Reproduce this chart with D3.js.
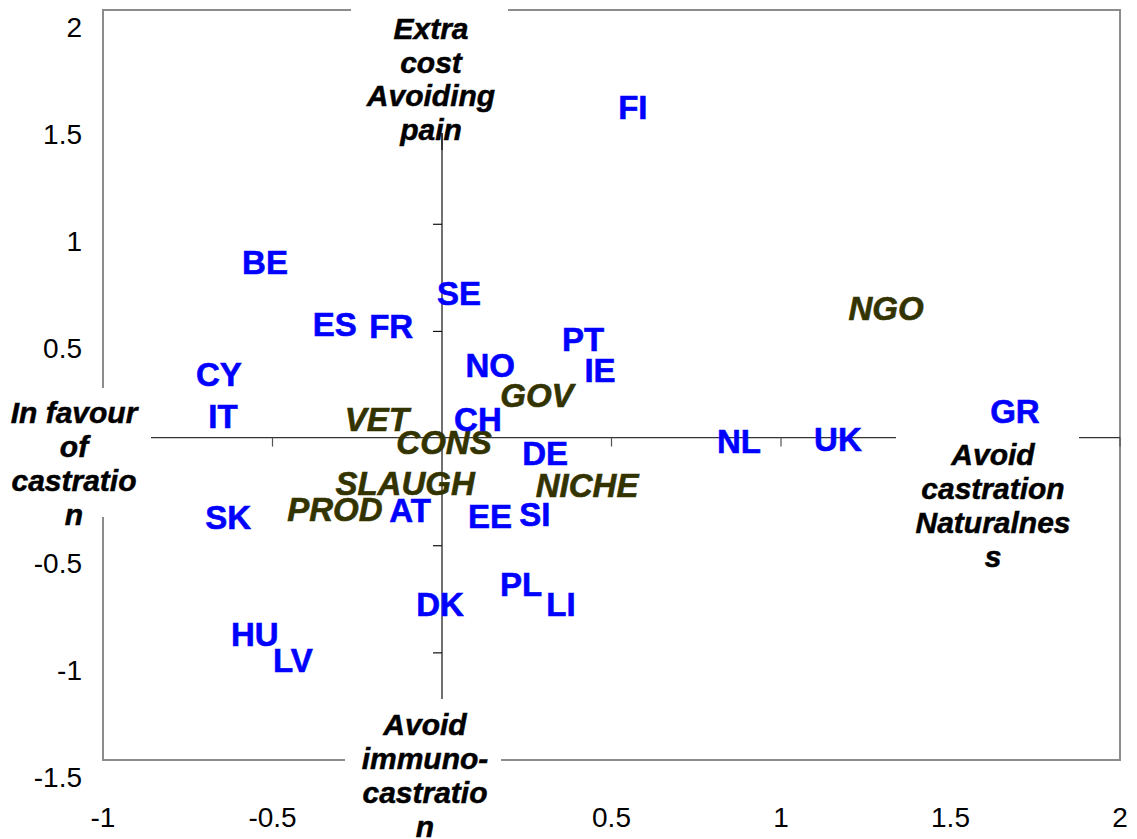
<!DOCTYPE html>
<html><head><meta charset="utf-8">
<script src="https://cdn.jsdelivr.net/npm/d3@7"></script>
<style>
html,body{margin:0;padding:0;background:#fff;}
svg{display:block;font-family:"Liberation Sans",Arial,sans-serif;}
</style></head>
<body>
<svg id="chart" width="1137" height="839"></svg>
<script>
// Countries (blue labels)
const countries = ["FI","BE","SE","ES","FR","PT","NO","IE","CY","GR","IT","CH","NL","UK","DE","SK","AT","EE","SI","PL","LI","DK","HU","LV"];
const countryX  = [0.563,-0.522,0.050,-0.316,-0.150,0.416,0.142,0.466,-0.658,1.690,-0.646,0.106,0.876,1.168,0.304,-0.631,-0.094,0.142,0.274,0.233,0.351,-0.006,-0.552,-0.440];
const countryY  = [1.547,0.824,0.679,0.535,0.526,0.465,0.344,0.320,0.302,0.129,0.105,0.091,-0.011,-0.002,-0.067,-0.366,-0.333,-0.361,-0.352,-0.678,-0.772,-0.772,-0.912,-1.033];
// Stakeholder groups (dark olive italic labels)
const groups = ["NGO","GOV","VET","CONS","SLAUGH","NICHE","PROD"];
const groupX = [1.310,0.280,-0.192,0.006,-0.109,0.428,-0.316];
const groupY = [0.610,0.203,0.091,-0.016,-0.207,-0.217,-0.329];
// Axis ticks
const xTicks = [-1,-0.5,0.5,1,1.5,2];
const yTicks = [2,1.5,1,0.5,-0.5,-1,-1.5];
// Pole labels
const poleTop = ["Extra","cost","Avoiding","pain"];
const poleBottom = ["Avoid","immuno-","castratio","n"];
const poleLeft = ["In favour","of","castratio","n"];
const poleRight = ["Avoid","castration","Naturalnes","s"];

const svg = d3.select("#chart");
const L = 103, R = 1120, T = 10, B = 760;
const x = d3.scaleLinear().domain([-1,2]).range([L,R]);
const y = d3.scaleLinear().domain([-1.5,2]).range([B,T]);

// frame
svg.append("rect").attr("x",L).attr("y",T).attr("width",R-L).attr("height",B-T)
  .attr("fill","none").attr("stroke","#8c8c8c").attr("stroke-width",2);

// central axes
const x0 = x(0), y0 = y(0)-1;
svg.append("line").attr("x1",L).attr("x2",R).attr("y1",y0).attr("y2",y0)
  .attr("stroke","#333").attr("stroke-width",1.2);
svg.append("line").attr("x1",x0).attr("x2",x0).attr("y1",T).attr("y2",B)
  .attr("stroke","#111").attr("stroke-width",1.2);
// ticks on horizontal axis (downwards)
svg.selectAll(".xt").data([-0.5,0.5,1,1.5,2]).enter().append("line")
  .attr("x1",d=>x(d)).attr("x2",d=>x(d)).attr("y1",y0).attr("y2",y0+9)
  .attr("stroke","#555").attr("stroke-width",1.2);
// ticks on vertical axis (leftwards)
svg.selectAll(".yt").data([1.5,1,0.5,-0.5,-1]).enter().append("line")
  .attr("x1",x0-9).attr("x2",x0).attr("y1",d=>y(d)).attr("y2",d=>y(d))
  .attr("stroke","#111").attr("stroke-width",1.2);

// tick labels
svg.selectAll(".xl").data(xTicks).enter().append("text")
  .attr("x",d=>x(d)).attr("y",827).attr("text-anchor","middle")
  .attr("font-size",28).attr("fill","#000").text(d=>d);
svg.selectAll(".yl").data(yTicks).enter().append("text")
  .attr("x",82).attr("y",d=>y(d)+27).attr("text-anchor","end")
  .attr("font-size",28).attr("fill","#000").text(d=>d);

// pole label boxes
function pole(lines, box, cx, firstBase, step){
  svg.append("rect").attr("x",box[0]).attr("y",box[1]).attr("width",box[2]-box[0]).attr("height",box[3]-box[1]).attr("fill","#fff");
  const t = svg.append("text").attr("text-anchor","middle").attr("font-size",30)
    .attr("font-weight","bold").attr("font-style","italic").attr("fill","#000")
    .attr("stroke","#000").attr("stroke-width",0.5);
  lines.forEach((s,i)=>t.append("tspan").attr("x",cx).attr("y",firstBase+i*step).text(s));
}
pole(poleTop,[351,0,508,133],431,39,33.6);
pole(poleBottom,[345,699,501,839],425,735,34);
pole(poleLeft,[0,388,151,517],74,423,34);
pole(poleRight,[896,428,1079,580],993,465,34);
// vertical axis segment showing through "pain"
svg.append("line").attr("x1",x0).attr("x2",x0).attr("y1",133).attr("y2",150)
  .attr("stroke","#111").attr("stroke-width",1.2);

// group labels
svg.selectAll(".g").data(groups).enter().append("text")
  .attr("x",(d,i)=>x(groupX[i])).attr("y",(d,i)=>y(groupY[i]))
  .attr("dy","0.36em").attr("text-anchor","middle").attr("font-size",33)
  .attr("font-weight","bold").attr("font-style","italic").attr("fill","#333300")
  .attr("stroke","#333300").attr("stroke-width",0.6).text(d=>d);
// country labels
svg.selectAll(".c").data(countries).enter().append("text")
  .attr("x",(d,i)=>x(countryX[i])).attr("y",(d,i)=>y(countryY[i]))
  .attr("dy","0.36em").attr("text-anchor","middle").attr("font-size",33)
  .attr("font-weight","bold").attr("fill","#0000ff")
  .attr("stroke","#0000ff").attr("stroke-width",0.6).text(d=>d);
</script>
</body></html>
